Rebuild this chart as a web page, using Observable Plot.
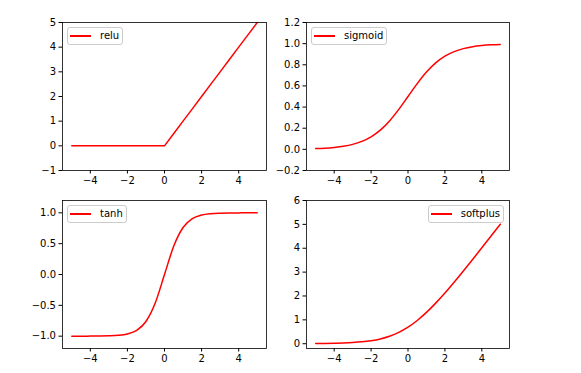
<!DOCTYPE html>
<html>
<head>
<meta charset="utf-8">
<script src="https://cdn.jsdelivr.net/npm/d3@7"></script>
<script src="https://cdn.jsdelivr.net/npm/@observablehq/plot@0.6"></script>
<style>
  body { margin: 0; background: white; }
  #chart { position: relative; width: 581px; height: 373px; background: white; overflow: hidden; font-family: "DejaVu Sans", sans-serif; }
  #chart svg { position: absolute; overflow: visible; background: transparent; max-width: none; }
  .legend { position: absolute; display: flex; align-items: center; box-sizing: border-box; height: 18px;
            border: 1px solid #cccccc; border-radius: 3px; background: rgba(255,255,255,0.8);
            padding: 0 3px 0 2px; font: 10px "DejaVu Sans", sans-serif; color: black; line-height: 1; }
  .legend .sw { width: 21px; height: 1.5px; background: red; margin-right: 9px; }
</style>
</head>
<body>
<div id="chart"></div>
<script>
const xs = [-5, -4.5, -4, -3.5, -3, -2.5, -2, -1.5, -1, -0.5, 0, 0.5, 1, 1.5, 2, 2.5, 3, 3.5, 4, 4.5, 5];
const reluY = [0, 0, 0, 0, 0, 0, 0, 0, 0, 0, 0, 0.5, 1, 1.5, 2, 2.5, 3, 3.5, 4, 4.5, 5];
const sigmoidY = [0.007, 0.011, 0.018, 0.029, 0.047, 0.076, 0.119, 0.182, 0.269, 0.378, 0.5, 0.622, 0.731, 0.818, 0.881, 0.924, 0.953, 0.971, 0.982, 0.989, 0.993];
const tanhY = [-1.0, -1.0, -0.999, -0.998, -0.995, -0.987, -0.964, -0.905, -0.762, -0.462, 0, 0.462, 0.762, 0.905, 0.964, 0.987, 0.995, 0.998, 0.999, 1.0, 1.0];
const softplusY = [0.007, 0.011, 0.018, 0.030, 0.049, 0.079, 0.127, 0.201, 0.313, 0.474, 0.693, 0.974, 1.313, 1.701, 2.127, 2.579, 3.049, 3.530, 4.018, 4.511, 5.007];

const xTicks = [-4, -2, 0, 2, 4];
const reluTicks = [-1, 0, 1, 2, 3, 4, 5];
const sigmoidTicks = [-0.2, 0, 0.2, 0.4, 0.6, 0.8, 1.0, 1.2];
const tanhTicks = [-1.0, -0.5, 0, 0.5, 1.0];
const softplusTicks = [0, 1, 2, 3, 4, 5, 6];

const labels = ["relu", "sigmoid", "tanh", "softplus"];

const chart = document.getElementById("chart");

function panel({svgLeft, svgTop, W, H, frame, values, yDomain, yTicks, yFormat, curve, label, legendRight}) {
  const data = xs.map((x, i) => ({x, y: values[i]}));
  const p = Plot.plot({
    width: W, height: H,
    marginLeft: frame.l - svgLeft,
    marginRight: svgLeft + W - frame.r,
    marginTop: frame.t - svgTop,
    marginBottom: svgTop + H - frame.b,
    style: {fontFamily: "DejaVu Sans", fontSize: "10px", color: "black", background: "transparent", overflow: "visible"},
    x: {domain: [-5.5, 5.5]},
    y: {domain: yDomain},
    marks: [
      Plot.line(data, {x: "x", y: "y", stroke: "red", strokeWidth: 1.5, curve}),
      Plot.axisX({ticks: xTicks, tickSize: 3.5, tickPadding: 3, label: null, fontSize: 10, tickFormat: d3.format("")}),
      Plot.axisY({ticks: yTicks, tickSize: 3.5, tickPadding: 3, label: null, fontSize: 10, tickFormat: yFormat}),
      Plot.frame({stroke: "black", strokeWidth: 0.8})
    ]
  });
  p.style.left = svgLeft + "px";
  p.style.top = svgTop + "px";
  chart.appendChild(p);

  const lg = document.createElement("div");
  lg.className = "legend";
  lg.innerHTML = `<span class="sw"></span><span>${label}</span>`;
  lg.style.top = (frame.t + 5) + "px";
  if (legendRight) lg.style.right = (581 - frame.r + 5) + "px";
  else lg.style.left = (frame.l + 5) + "px";
  chart.appendChild(lg);
}

panel({svgLeft: 0, svgTop: 0, W: 290, H: 190, frame: {l: 62, r: 266, t: 22, b: 170},
  values: reluY, yDomain: [-1, 5], yTicks: reluTicks, yFormat: d3.format(""), curve: "linear", label: labels[0]});
panel({svgLeft: 290, svgTop: 0, W: 291, H: 190, frame: {l: 306, r: 509, t: 22, b: 170},
  values: sigmoidY, yDomain: [-0.2, 1.2], yTicks: sigmoidTicks, yFormat: d3.format(".1f"), curve: "monotone-x", label: labels[1]});
panel({svgLeft: 0, svgTop: 190, W: 290, H: 183, frame: {l: 62, r: 266, t: 200, b: 348},
  values: tanhY, yDomain: [-1.2, 1.2], yTicks: tanhTicks, yFormat: d3.format(".1f"), curve: "monotone-x", label: labels[2]});
panel({svgLeft: 290, svgTop: 190, W: 291, H: 183, frame: {l: 306, r: 509, t: 200, b: 348},
  values: softplusY, yDomain: [-0.2, 6], yTicks: softplusTicks, yFormat: d3.format(""), curve: "monotone-x", label: labels[3], legendRight: true});
</script>
</body>
</html>
